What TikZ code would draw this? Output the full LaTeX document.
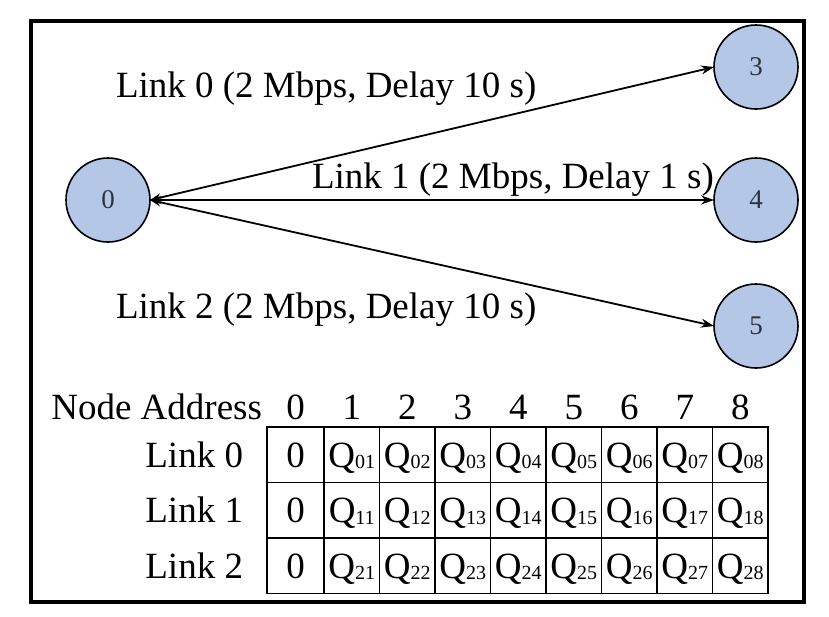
\documentclass[tikz,border=0pt]{standalone}
\usepackage{fontspec}
\setmainfont{Liberation Serif}
\usetikzlibrary{arrows.meta}
\definecolor{nodeblue}{RGB}{180,199,231}
\definecolor{nodetext}{RGB}{45,50,65}
\newcommand\Qsub[1]{Q{\fontsize{20}{21}\selectfont\raisebox{-1.5pt}{#1}}}
\begin{document}
\begin{tikzpicture}[x=1pt,y=-1pt,
  every node/.style={inner sep=0pt, outer sep=0pt},
  bigtxt/.style={font=\fontsize{37}{40}\selectfont},
  nodecirc/.style={circle, draw=black, line width=1.6pt, fill=nodeblue, minimum size=84pt, font=\fontsize{27}{29}\selectfont, text=nodetext},
  linkarrow/.style={line width=1.8pt, {Stealth[length=11pt,width=8pt]}-{Stealth[length=13pt,width=9pt]}},
  cell/.style={draw, line width=1.8pt, minimum width=55.5pt, minimum height=55.5pt, text height=25pt, text depth=0pt, bigtxt},
]
\useasboundingbox (0,0) rectangle (829,616);
\draw[line width=4pt] (31,21) rectangle (804,602);
% nodes
\node[nodecirc] (n0) at (108,200) {0};
\node[nodecirc] (n3) at (756,67) {3};
\node[nodecirc] (n4) at (756,200) {4};
\node[nodecirc] (n5) at (756,326) {5};
% links
\draw[linkarrow] (n0.east) -- (n3.west);
\draw[linkarrow] (n0.east) -- (n4.west);
\draw[linkarrow] (n0.east) -- (n5.west);
% link labels
\node[bigtxt, anchor=base west] (l0) at (116,97) {Link 0 (2 Mbps, Delay 10 s)};
\node[bigtxt, anchor=base west] (l1) at (312,188) {Link 1 (2 Mbps, Delay 1 s)};
\node[bigtxt, anchor=base west] (l2) at (116,318) {Link 2 (2 Mbps, Delay 10 s)};
% table header
\node[bigtxt, anchor=base east] (hdr) at (262,419) {Node Address};
\node[bigtxt, anchor=base] (h0) at (295.5,419) {0};
\foreach \k in {1,...,8} {
  \node[bigtxt, anchor=base] (h\k) at ({324+55.5*(\k-0.5)},419) {\k};
}
% table
\foreach \r in {0,1,2} {
  \node[bigtxt, anchor=base east] (rl\r) at (243,{454.75+55.5*\r+12.5}) {Link \r};
  \node[cell, minimum width=57pt] (c\r-0) at (295.5,{454.75+55.5*\r}) {0};
  \foreach \k in {1,...,8} {
    \node[cell] (c\r-\k) at ({324+55.5*(\k-0.5)},{454.75+55.5*\r}) {\Qsub{\r\k}};
  }
}
\end{tikzpicture}
\end{document}
